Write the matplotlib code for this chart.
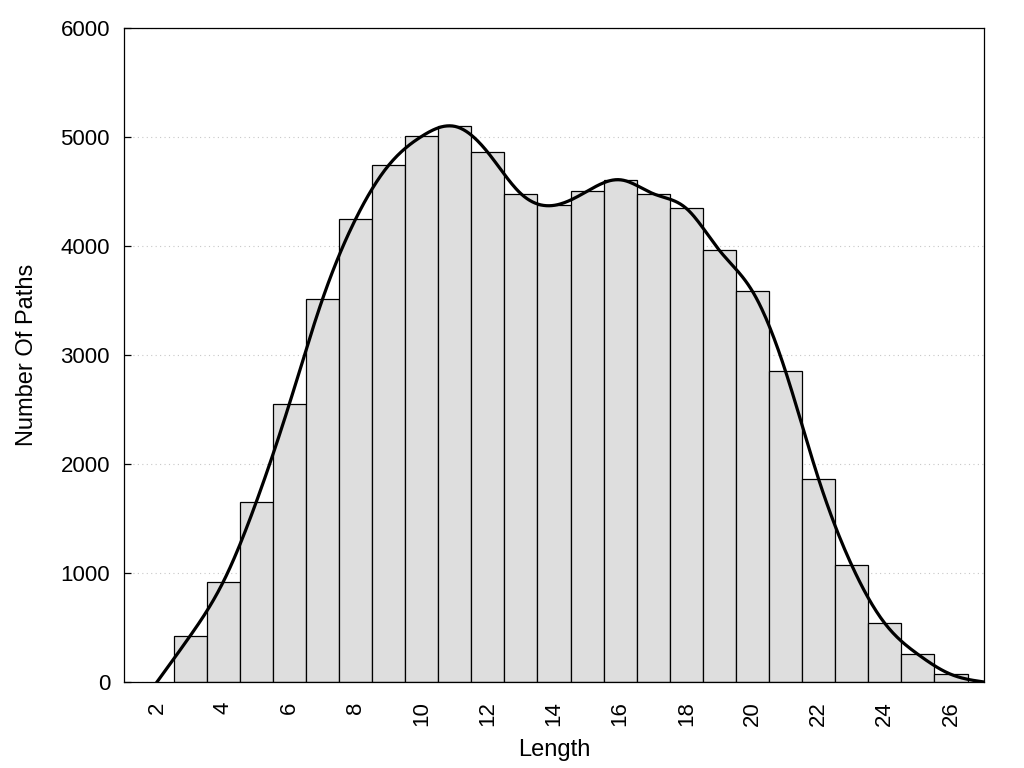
import matplotlib
matplotlib.use('Agg')
import matplotlib.pyplot as plt
import numpy as np

plt.rcParams['font.family'] = ['Liberation Sans', 'DejaVu Sans']

# path lengths and number of paths per length
lengths = [3, 4, 5, 6, 7, 8, 9, 10, 11, 12, 13, 14,
           15, 16, 17, 18, 19, 20, 21, 22, 23, 24, 25, 26]
counts = [422, 917, 1651, 2550, 3510, 4245, 4740, 5006, 5098, 4859, 4480, 4373,
          4502, 4608, 4480, 4345, 3960, 3584, 2850, 1860, 1071, 538, 254, 70]

# curve is anchored at zero on both ends
curve_x = [2] + lengths + [27]
curve_y = [0] + counts + [0]

x_ticks = [2, 4, 6, 8, 10, 12, 14, 16, 18, 20, 22, 24, 26]
y_ticks = [0, 1000, 2000, 3000, 4000, 5000, 6000]


def natural_spline(x, y, num=600):
    x = np.asarray(x, dtype=float)
    y = np.asarray(y, dtype=float)
    n = len(x)
    h = np.diff(x)
    a = np.zeros((n, n))
    b = np.zeros(n)
    a[0, 0] = 1
    a[-1, -1] = 1
    for i in range(1, n - 1):
        a[i, i - 1] = h[i - 1]
        a[i, i] = 2 * (h[i - 1] + h[i])
        a[i, i + 1] = h[i]
        b[i] = 3 * ((y[i + 1] - y[i]) / h[i] - (y[i] - y[i - 1]) / h[i - 1])
    c = np.linalg.solve(a, b)
    xs = np.linspace(x[0], x[-1], num)
    idx = np.clip(np.searchsorted(x, xs) - 1, 0, n - 2)
    dx = xs - x[idx]
    hi = h[idx]
    bb = (y[idx + 1] - y[idx]) / hi - hi * (2 * c[idx] + c[idx + 1]) / 3
    dd = (c[idx + 1] - c[idx]) / (3 * hi)
    ys = y[idx] + bb * dx + c[idx] * dx ** 2 + dd * dx ** 3
    return xs, ys


fig = plt.figure(figsize=(10.24, 7.68), dpi=100)
ax = fig.add_axes([0.121, 0.112, 0.840, 0.8515])

ax.bar(lengths, counts, width=1.0, color='#dedede', edgecolor='black',
       linewidth=0.9, zorder=2)

xs, ys = natural_spline(curve_x, curve_y)
ax.plot(xs, ys, color='black', linewidth=2.3, zorder=3)

ax.set_xlim(1, 27)
ax.set_ylim(0, 6000)
ax.set_xticks(x_ticks)
ax.set_yticks(y_ticks)
ax.set_xticklabels([str(t) for t in x_ticks], rotation=90)

ax.yaxis.grid(True, color='#c8c8c8', linestyle=(0, (1, 3)), linewidth=0.8, zorder=0)
ax.set_axisbelow(True)

ax.tick_params(axis='y', direction='in', length=5, width=0.9, labelsize=16, pad=10)
ax.tick_params(axis='x', length=0, labelsize=16, pad=14)

for s in ax.spines.values():
    s.set_linewidth(0.9)

ax.set_xlabel('Length', fontsize=17, labelpad=9)
ax.set_ylabel('Number Of Paths', fontsize=17, labelpad=16)

fig.savefig('out.png', dpi=100)
